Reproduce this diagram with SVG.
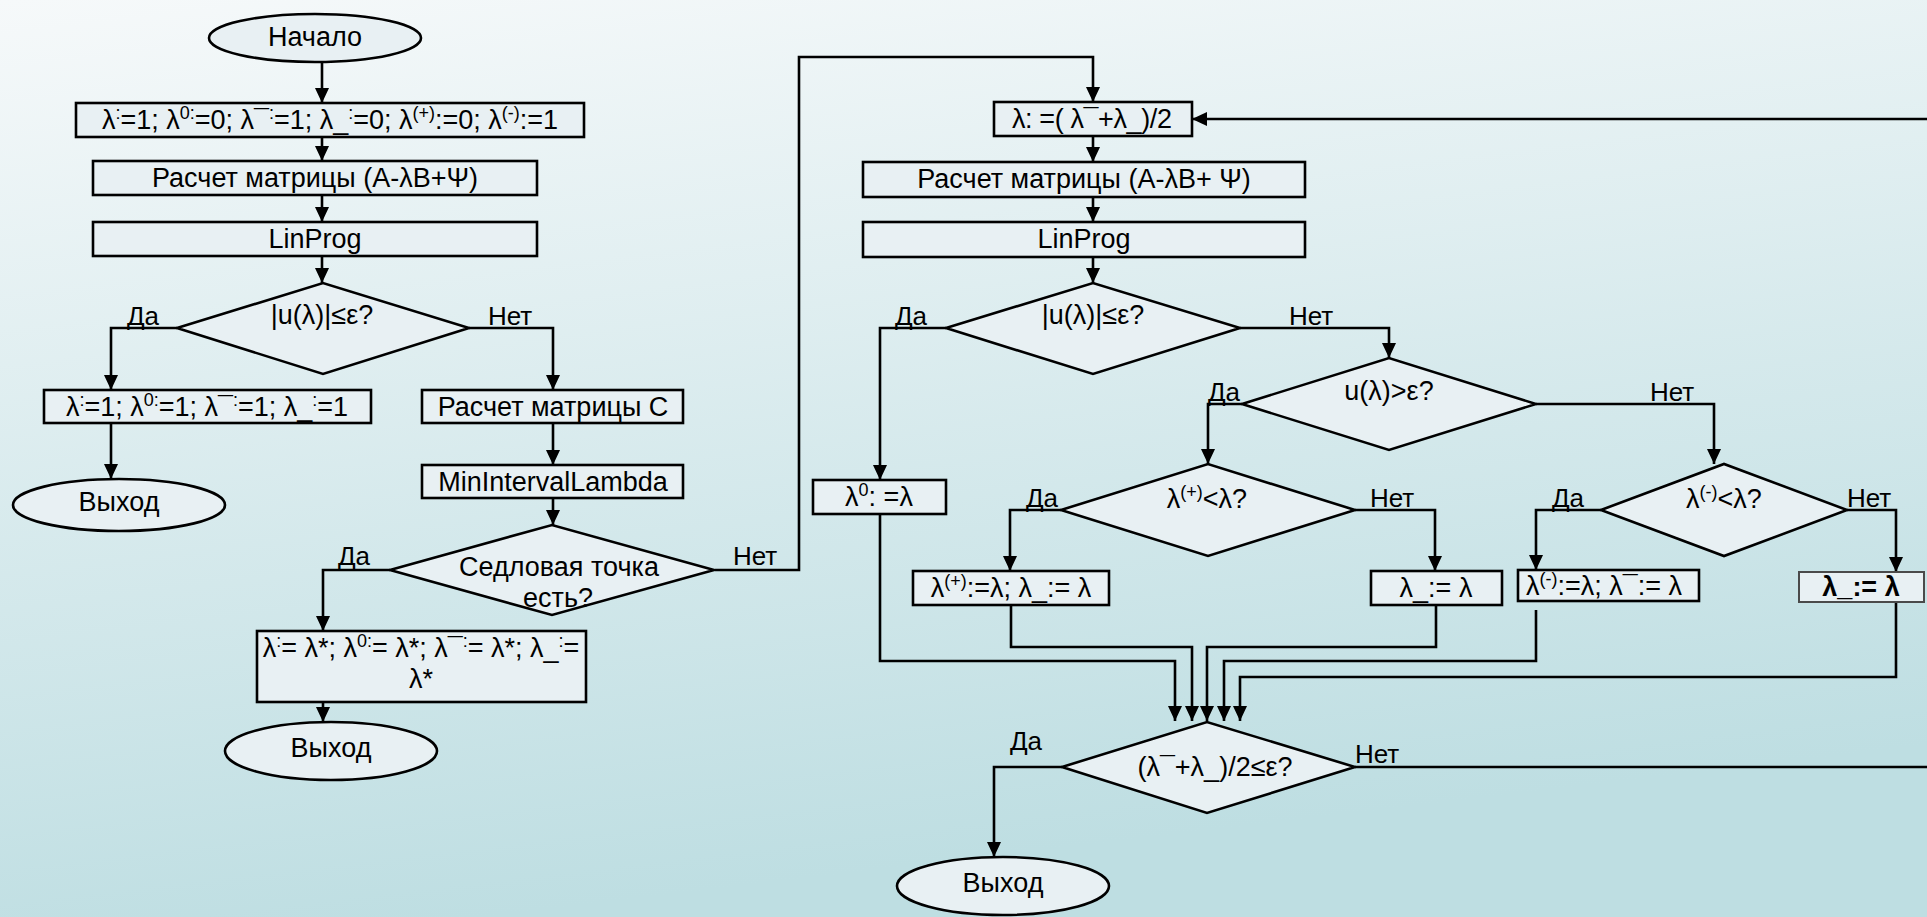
<svg xmlns="http://www.w3.org/2000/svg" width="1927" height="917" viewBox="0 0 1927 917">
<defs>
<linearGradient id="bg" x1="0" y1="0" x2="0.25" y2="1">
<stop offset="0" stop-color="#f6f9fa"/>
<stop offset="1" stop-color="#bedee2"/>
</linearGradient>
<marker id="ah" markerUnits="userSpaceOnUse" markerWidth="16" markerHeight="14" refX="15" refY="7" orient="auto">
<path d="M0,0 L15,7 L0,14 z" fill="#000"/>
</marker>
<style>
.n{fill:#e8f0f3;stroke:#000;stroke-width:2.6}
.t{font-family:"Liberation Sans",Arial,sans-serif;font-size:27px;fill:#000;text-anchor:middle}
.l{font-family:"Liberation Sans",Arial,sans-serif;font-size:26px;fill:#000}
.s{font-size:18px}
.c path{fill:none;stroke:#000;stroke-width:2.6}
.a{marker-end:url(#ah)}
</style>
</defs>
<rect x="0" y="0" width="1927" height="917" fill="url(#bg)"/>

<g class="c" id="connectors">
<path class="a" d="M322,62 V103"/>
<path class="a" d="M322,137 V161"/>
<path class="a" d="M322,195 V222"/>
<path class="a" d="M322,256 V283"/>
<path class="a" d="M177,328 H111 V390"/>
<path class="a" d="M469,328 H553 V390"/>
<path class="a" d="M111,423 V479"/>
<path class="a" d="M553,423 V465"/>
<path class="a" d="M553,498 V525"/>
<path class="a" d="M390,570 H323 V631"/>
<path class="a" d="M323,702 V722"/>
<path class="a" d="M715,570 H799 V57 H1093 V102"/>
<path class="a" d="M1927,119 H1192"/>
<path class="a" d="M1093,136 V162"/>
<path class="a" d="M1093,197 V222"/>
<path class="a" d="M1093,257 V283"/>
<path class="a" d="M946,328 H880 V480"/>
<path class="a" d="M1240,328 H1389 V358"/>
<path class="a" d="M1242,404 H1208 V464"/>
<path class="a" d="M1536,404 H1714 V464"/>
<path class="a" d="M1061,510 H1010 V571"/>
<path class="a" d="M1355,510 H1435 V571"/>
<path class="a" d="M1601,510 H1536 V570"/>
<path class="a" d="M1847,510 H1896 V572"/>
<path class="a" d="M880,514 V661 H1175 V721"/>
<path class="a" d="M1011,605 V647 H1192 V721"/>
<path class="a" d="M1436,605 V647 H1207 V721"/>
<path class="a" d="M1536,610 V661 H1224 V721"/>
<path class="a" d="M1896,602 V677 H1240 V721"/>
<path class="a" d="M1062,767 H994 V857"/>
<path d="M1355,767 H1927"/>
</g>

<g id="labels">
<text class="l" x="127" y="325">Да</text>
<text class="l" x="488" y="325">Нет</text>
<text class="l" x="338" y="565">Да</text>
<text class="l" x="733" y="565">Нет</text>
<text class="l" x="895" y="325">Да</text>
<text class="l" x="1289" y="325">Нет</text>
<text class="l" x="1208" y="401">Да</text>
<text class="l" x="1650" y="401">Нет</text>
<text class="l" x="1026" y="507">Да</text>
<text class="l" x="1370" y="507">Нет</text>
<text class="l" x="1552" y="507">Да</text>
<text class="l" x="1847" y="507">Нет</text>
<text class="l" x="1010" y="750">Да</text>
<text class="l" x="1355" y="763">Нет</text>
</g>

<g id="start"><ellipse class="n" cx="315" cy="38" rx="106" ry="24"/><text class="t" x="315" y="46">Начало</text></g>

<g id="init"><rect class="n" x="76" y="103" width="508" height="34"/>
<text class="t" x="330" y="129">λ<tspan class="s" dy="-10">:</tspan><tspan dy="10">=1; λ</tspan><tspan class="s" dy="-10">0:</tspan><tspan dy="10">=0; λ¯</tspan><tspan class="s" dy="-10">:</tspan><tspan dy="10">=1; λ_</tspan><tspan class="s" dy="-10">:</tspan><tspan dy="10">=0; λ</tspan><tspan class="s" dy="-10">(+)</tspan><tspan dy="10">:=0; λ</tspan><tspan class="s" dy="-10">(-)</tspan><tspan dy="10">:=1</tspan></text></g>

<g id="matrix1"><rect class="n" x="93" y="161" width="444" height="34"/><text class="t" x="315" y="187">Расчет матрицы (A-λB+Ψ)</text></g>
<g id="linprog1"><rect class="n" x="93" y="222" width="444" height="34"/><text class="t" x="315" y="248">LinProg</text></g>

<g id="dec1"><path class="n" d="M177,328 L323,283 L469,328 L323,374 Z"/><text class="t" x="322" y="324">|u(λ)|≤ε?</text></g>

<g id="set1"><rect class="n" x="44" y="390" width="327" height="33"/>
<text class="t" x="207" y="416">λ<tspan class="s" dy="-10">:</tspan><tspan dy="10">=1; λ</tspan><tspan class="s" dy="-10">0:</tspan><tspan dy="10">=1; λ¯</tspan><tspan class="s" dy="-10">:</tspan><tspan dy="10">=1; λ_</tspan><tspan class="s" dy="-10">:</tspan><tspan dy="10">=1</tspan></text></g>

<g id="exit1"><ellipse class="n" cx="119" cy="505" rx="106" ry="26"/><text class="t" x="119" y="511">Выход</text></g>

<g id="matrixC"><rect class="n" x="422" y="390" width="261" height="33"/><text class="t" x="553" y="416">Расчет матрицы C</text></g>
<g id="minint"><rect class="n" x="422" y="465" width="261" height="33"/><text class="t" x="553" y="491">MinIntervalLambda</text></g>

<g id="dec2"><path class="n" d="M390,570 L552,525 L714,570 L552,615 Z"/>
<text class="t" x="559" y="576">Седловая точка</text><text class="t" x="558" y="607">есть?</text></g>

<g id="set2"><rect class="n" x="257" y="631" width="329" height="71"/>
<text class="t" x="421" y="657">λ<tspan class="s" dy="-10">:</tspan><tspan dy="10">= λ*; λ</tspan><tspan class="s" dy="-10">0:</tspan><tspan dy="10">= λ*; λ¯</tspan><tspan class="s" dy="-10">:</tspan><tspan dy="10">= λ*; λ_</tspan><tspan class="s" dy="-10">:</tspan><tspan dy="10">=</tspan></text>
<text class="t" x="421" y="688">λ*</text></g>

<g id="exit2"><ellipse class="n" cx="331" cy="751" rx="106" ry="29"/><text class="t" x="331" y="757">Выход</text></g>

<g id="mid"><rect class="n" x="994" y="102" width="198" height="34"/><text class="t" x="1092" y="128" textLength="160">λ: =( λ¯+λ_)/2</text></g>
<g id="matrix2"><rect class="n" x="863" y="162" width="442" height="35"/><text class="t" x="1084" y="188">Расчет матрицы (A-λB+ Ψ)</text></g>
<g id="linprog2"><rect class="n" x="863" y="222" width="442" height="35"/><text class="t" x="1084" y="248">LinProg</text></g>

<g id="dec3"><path class="n" d="M946,328 L1093,283 L1240,328 L1093,374 Z"/><text class="t" x="1093" y="324">|u(λ)|≤ε?</text></g>
<g id="dec4"><path class="n" d="M1242,404 L1389,358 L1536,404 L1389,450 Z"/><text class="t" x="1389" y="400">u(λ)&gt;ε?</text></g>

<g id="l0"><rect class="n" x="813" y="480" width="133" height="34"/><text class="t" x="879" y="506">λ<tspan class="s" dy="-10">0</tspan><tspan dy="10">: =λ</tspan></text></g>

<g id="dec5"><path class="n" d="M1061,510 L1208,464 L1355,510 L1208,556 Z"/><text class="t" x="1207" y="508">λ<tspan class="s" dy="-10">(+)</tspan><tspan dy="10">&lt;λ?</tspan></text></g>
<g id="dec6"><path class="n" d="M1601,510 L1724,464 L1847,510 L1724,556 Z"/><text class="t" x="1724" y="508">λ<tspan class="s" dy="-10">(-)</tspan><tspan dy="10">&lt;λ?</tspan></text></g>

<g id="setplus"><rect class="n" x="913" y="571" width="196" height="34"/><text class="t" x="1011" y="597">λ<tspan class="s" dy="-10">(+)</tspan><tspan dy="10">:=λ; λ_:= λ</tspan></text></g>
<g id="setlow1"><rect class="n" x="1371" y="571" width="131" height="34"/><text class="t" x="1436" y="597">λ_:= λ</text></g>
<g id="setminus"><rect class="n" x="1518" y="570" width="181" height="31"/><text class="t" x="1604" y="595">λ<tspan class="s" dy="-10">(-)</tspan><tspan dy="10">:=λ; λ¯:= λ</tspan></text></g>
<g id="setlow2"><rect class="n" x="1799" y="572" width="125" height="30" style="stroke:#4a4a4a;stroke-width:2"/><text class="t" x="1861" y="596" font-weight="bold">λ_:= λ</text></g>

<g id="dec7"><path class="n" d="M1062,767 L1207,722 L1355,767 L1207,813 Z"/><text class="t" x="1215" y="776">(λ¯+λ_)/2≤ε?</text></g>

<g id="exit3"><ellipse class="n" cx="1003" cy="886" rx="106" ry="29"/><text class="t" x="1003" y="892">Выход</text></g>
</svg>
